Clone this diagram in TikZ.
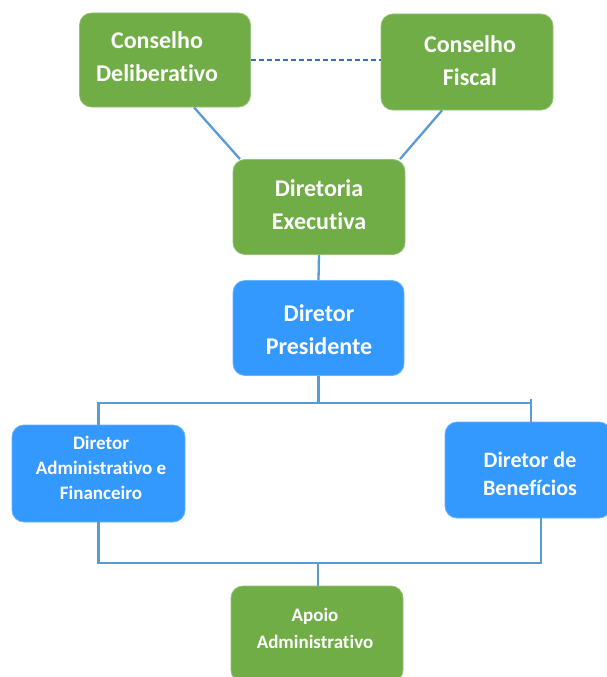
\documentclass[tikz,border=0pt]{standalone}
\usepackage{fontspec}
\setmainfont{Carlito}[Ligatures=NoCommon]
\definecolor{boxgreen}{HTML}{70AD47}
\definecolor{boxblue}{HTML}{3399FF}
\definecolor{linkblue}{HTML}{5B9BD5}
\definecolor{dashblue}{HTML}{2E75B6}
\tikzset{
  orgbox/.style={rectangle, rounded corners=12pt, inner sep=0pt},
  greenbox/.style={orgbox, fill=boxgreen, draw=boxgreen!75!white, line width=0.8pt},
  bluebox/.style={orgbox, fill=boxblue, draw=boxblue!75!white, line width=0.8pt},
  boxtext/.style={text=white, align=center, inner sep=0pt},
  bigtext/.style={boxtext, font=\bfseries\fontsize{24}{33}\selectfont},
  midtext/.style={boxtext, font=\bfseries\fontsize{22}{28}\selectfont},
  smalltext/.style={boxtext, font=\bfseries\fontsize{19}{25}\selectfont},
  apoiotext/.style={boxtext, font=\bfseries\fontsize{19}{27}\selectfont},
  link/.style={draw=linkblue, line width=2.3pt},
  dashlink/.style={draw=dashblue, line width=1.8pt, dash pattern=on 5pt off 3pt}
}
\begin{document}
\begin{tikzpicture}[x=1pt,y=-1pt]
\useasboundingbox (0,0) rectangle (607,677);
% boxes
\node[greenbox, minimum width=171pt, minimum height=94pt] (CD) at (165,60) {};
\node[greenbox, minimum width=172pt, minimum height=96pt] (CF) at (467,62) {};
\node[greenbox, minimum width=172pt, minimum height=95pt] (DE) at (319,207) {};
\node[bluebox, minimum width=171pt, minimum height=95pt] (DP) at (318.5,328) {};
\node[bluebox, minimum width=173pt, minimum height=97pt] (DAF) at (98.5,473.5) {};
\node[bluebox, minimum width=166pt, minimum height=96pt] (DB) at (528,470) {};
\node[greenbox, minimum width=172pt, minimum height=96pt] (AA) at (317,634) {};
% texts
\node[bigtext] (CDt) at (157,57) {Conselho\\Deliberativo};
\node[bigtext] (CFt) at (470,61) {Conselho\\Fiscal};
\node[bigtext] (DEt) at (319,205) {Diretoria\\Executiva};
\node[bigtext] (DPt) at (319,330) {Diretor\\Presidente};
\node[smalltext] (DAFt) at (101,468) {Diretor\\Administrativo e\\Financeiro};
\node[midtext] (DBt) at (530,474) {Diretor de\\Benefícios};
\node[apoiotext] (AAt) at (315,628) {Apoio\\Administrativo};
% coordinates
\coordinate (bus1) at (318.5,403);
\coordinate (busL) at (98.5,403);
\coordinate (busR) at (531,403);
\coordinate (tickR) at (531,399);
\coordinate (bus2) at (318,563);
\coordinate (bus2L) at (98.5,563);
\coordinate (bus2R) at (541,563);
% connectors
\draw[dashlink] (CD.east |- 0,60) -- (CF.west |- 0,60);
\draw[link] ([xshift=29pt]CD.south) -- ([xshift=-79pt]DE.north);
\draw[link] ([xshift=-25pt]CF.south) -- ([xshift=81pt]DE.north);
\draw[link] (DE.south) -- (DP.north);
\draw[link] (DP.south) -- (bus1);
\draw[link] (DAF.north) -- (busL) -- (busR);
\draw[link] (tickR) -- ([xshift=3pt]DB.north);
\draw[link] (DAF.south) -- (bus2L) -- (bus2R) -- ([xshift=13pt]DB.south);
\draw[link] (bus2) -- (AA.north -| bus2);
\end{tikzpicture}
\end{document}
